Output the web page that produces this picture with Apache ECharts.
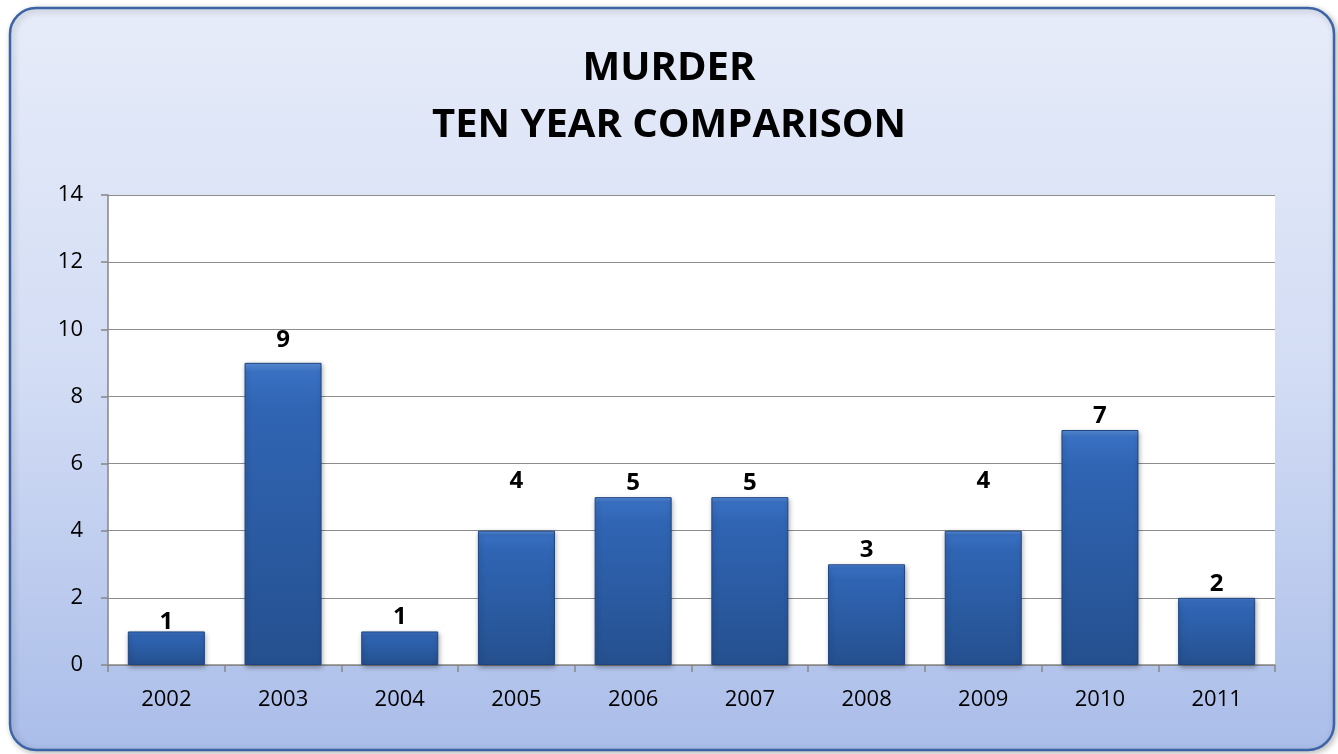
<!DOCTYPE html>
<html><head><meta charset="utf-8">
<script src="https://cdn.jsdelivr.net/npm/echarts@6/dist/echarts.min.js"></script>
<style>html,body{margin:0;padding:0;background:#fff}#c{width:1338px;height:754px}</style>
</head><body><div id="c"></div>
<script>
const categories = ['2002','2003','2004','2005','2006','2007','2008','2009','2010','2011'];
const murders = [1,9,1,4,5,5,3,4,7,2];
const yTicks = {min:0,max:14,interval:2};
const titleLines = ['MURDER','TEN YEAR COMPARISON'];

const chart = echarts.init(document.getElementById('c'));
const font = '"Open Sans", "Liberation Sans", sans-serif';
// label nudges (as placed in the original chart)
const labelNudge = {0:[0,5], 1:[0,-9], 3:[0,-36], 7:[0,-36]};
chart.setOption({
  animation:false,
  graphic:[{
    type:'rect', z:-10, silent:true,
    shape:{x:10,y:8,width:1324,height:742,r:26},
    style:{
      fill:new echarts.graphic.LinearGradient(0,0,0,1,[{offset:0,color:'#e7ecf9'},{offset:0.5,color:'#d2dcf4'},{offset:1,color:'#aabde9'}]),
      stroke:'#3b64a6', lineWidth:2.5,
      shadowBlur:6, shadowColor:'rgba(0,0,0,0.25)', shadowOffsetX:2, shadowOffsetY:2
    }
  }],
  title:{
    text:titleLines.join('\n'), left:'center', top:35,
    textStyle:{fontFamily:font, fontWeight:'bold', fontSize:40, color:'#000', lineHeight:57}
  },
  grid:{left:108, right:63, top:195, bottom:89, show:true, backgroundColor:'#ffffff', borderWidth:0},
  xAxis:{
    type:'category', data:categories,
    axisLine:{lineStyle:{color:'#868686', width:1.5}},
    axisTick:{show:true, alignWithLabel:false, length:7, lineStyle:{color:'#868686', width:1.5}},
    axisLabel:{fontFamily:font, fontSize:22, color:'#000', margin:24}
  },
  yAxis:{
    type:'value', min:yTicks.min, max:yTicks.max, interval:yTicks.interval,
    axisLine:{show:true, lineStyle:{color:'#868686', width:1.5}},
    axisTick:{show:true, length:7, lineStyle:{color:'#868686', width:1.5}},
    splitLine:{lineStyle:{color:'#8c8c8c', width:1.2}},
    axisLabel:{fontFamily:font, fontSize:22, color:'#000', margin:25}
  },
  series:[{
    type:'bar', barWidth:'66%',
    data:murders.map((v,i)=> labelNudge[i] ? {value:v, label:{offset:labelNudge[i]}} : v),
    itemStyle:{
      color:new echarts.graphic.LinearGradient(0,0,0,1,[
        {offset:0,color:'#5a90dc'},{offset:0.03,color:'#3a70c2'},{offset:0.15,color:'#3065b4'},{offset:1,color:'#25508f'}]),
      borderColor:'#1f4580', borderWidth:1,
      shadowBlur:5, shadowColor:'rgba(0,0,0,0.35)', shadowOffsetX:1, shadowOffsetY:2
    },
    label:{show:true, position:'top', distance:2, fontFamily:font, fontWeight:'bold', fontSize:24, color:'#000'}
  }]
});
</script></body></html>
